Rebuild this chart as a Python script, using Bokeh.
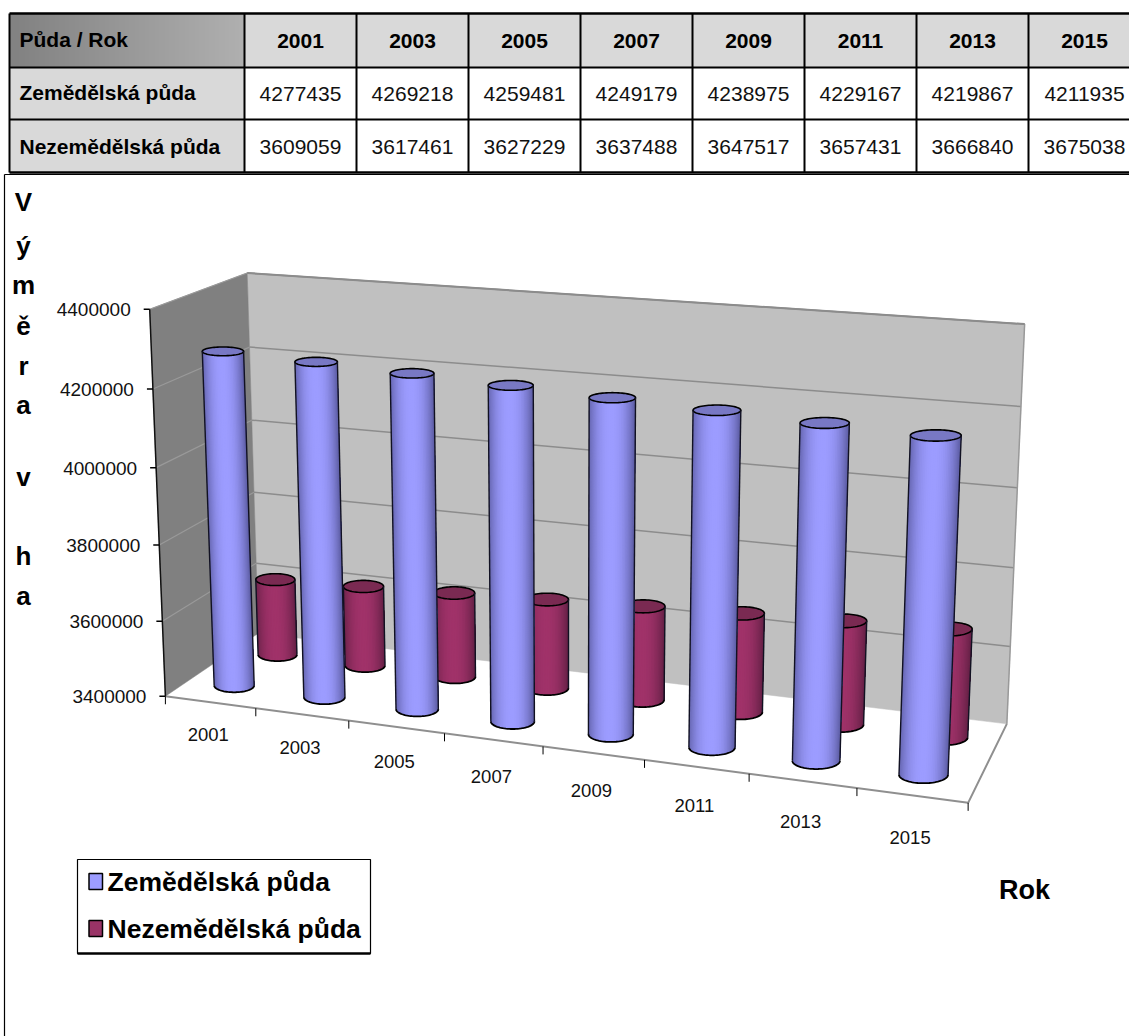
import numpy as np
from bokeh.core.properties import value
from bokeh.embed import file_html
from bokeh.models import Range1d
from bokeh.plotting import figure
from bokeh.resources import INLINE

# Land area per year, hectares
years = ["2001", "2003", "2005", "2007", "2009", "2011", "2013", "2015"]
agricultural = [4277435, 4269218, 4259481, 4249179, 4238975, 4229167, 4219867, 4211935]
non_agricultural = [3609059, 3617461, 3627229, 3637488, 3647517, 3657431, 3666840, 3675038]
value_ticks = [3400000, 3600000, 3800000, 4000000, 4200000, 4400000]
series_names = ["Zemědělská půda", "Nezemědělská půda"]
corner_label = "Půda / Rok"
axis_title_letters = ["V", "ý", "m", "ě", "r", "a", "v", "h", "a"]
axis_title_rows = [201, 245, 284, 325, 365, 404, 476, 555, 595]
category_axis_title = "Rok"

BLUE = (156, 156, 255)
BLUE_EDGE = (96, 96, 168)
BLUE_TOP = "#7878c4"
PLUM = (160, 50, 105)
PLUM_EDGE = (104, 34, 72)
PLUM_TOP = "#7a2a52"
ARIAL = "Liberation Sans"

p = figure(width=1129, height=1036, output_backend="svg", toolbar_location=None,
           x_range=Range1d(0, 1129), y_range=Range1d(1036, 0),
           min_border=0, outline_line_color=None, background_fill_color="white")
p.axis.visible = False
p.grid.visible = False


def label(x, y, text, size, style="normal", align="left", color="black"):
    p.text([x], [y], text=[text], text_font=value(ARIAL), text_font_size=f"{size}px",
           text_font_style=style, text_align=align, text_baseline="middle", text_color=color)


# ---- data table across the top of the page
col_edges = [9, 244, 356, 468, 580, 692, 804, 916, 1028, 1129]
row_edges = [13, 67, 119, 172]
p.quad(left=col_edges[1:-1], right=col_edges[2:], top=[row_edges[0]] * 8, bottom=[row_edges[1]] * 8,
       fill_color="#d9d9d9", line_color=None)
p.quad(left=[col_edges[0]] * 2, right=[col_edges[1]] * 2, top=row_edges[1:3], bottom=row_edges[2:4],
       fill_color="#d9d9d9", line_color=None)
# corner cell shades from dark grey to light grey; each band runs on to the cell's
# right edge and is painted over by the next, so no seams appear
band_starts = np.arange(col_edges[0], col_edges[1], 5)
band_greys = [int(130 + 46 * (s - col_edges[0]) / (col_edges[1] - col_edges[0])) for s in band_starts]
p.quad(left=band_starts, right=[col_edges[1]] * len(band_starts), top=row_edges[0], bottom=row_edges[1],
       fill_color=[f"#{g:02x}{g:02x}{g:02x}" for g in band_greys], line_color=None)
for y in row_edges:
    p.line([col_edges[0], 1129], [y, y], line_color="black", line_width=2.5 if y in (13, 172) else 2)
for x in col_edges[:-1]:
    p.line([x, x], [row_edges[0], row_edges[-1]], line_color="black", line_width=2)

label(19, 39, corner_label, 21, style="bold")
label(19, 92, series_names[0], 21, style="bold")
label(19, 146, series_names[1], 21, style="bold")
for i, yr in enumerate(years):
    cx = (col_edges[i + 1] + col_edges[i + 2]) / 2 if i < 7 else 1084
    label(cx, 40, yr, 21, style="bold", align="center")
    label(cx, 93, str(agricultural[i]), 21, align="center", color="#111111")
    label(cx, 146, str(non_agricultural[i]), 21, align="center", color="#111111")

# frame around the chart area
p.line([4, 4], [174, 1036], line_color="black", line_width=1.2)
p.line([4, 1129], [174, 174], line_color="black", line_width=1)

# ---- perspective camera for the 3D box: (category, depth, value share) -> page pixels
box_world = np.array([
    [0, 0, 0], [0, 0, 1], [0, 1, 0], [0, 1, 1], [8, 1, 1], [8, 1, 0], [8, 0, 0],
    [1, 0, 0], [2, 0, 0], [3, 0, 0], [4, 0, 0], [5, 0, 0], [6, 0, 0], [7, 0, 0],
], dtype=float)
front_ticks_x = [255, 347, 443, 542, 645, 750, 857]
box_page = [[166, 695], [149, 310], [258, 635], [247, 271], [1024, 324], [1006, 722], [967, 803]]
box_page += [[x, 695 + (x - 166) * (803 - 695) / (967 - 166)] for x in front_ticks_x]

rows = []
for (wx, wd, wz), (sx, sy) in zip(box_world, box_page):
    h = [wx, wd, wz, 1]
    rows.append(h + [0, 0, 0, 0] + [-sx * c for c in h])
    rows.append([0, 0, 0, 0] + h + [-sy * c for c in h])
camera = np.linalg.svd(np.array(rows))[2][-1].reshape(3, 4)


def project(x, d, v):
    """Page position of a point at category position x, depth d and a data value v."""
    z = (np.asarray(v, dtype=float) - value_ticks[0]) / (value_ticks[-1] - value_ticks[0])
    x, d, z = np.broadcast_arrays(np.asarray(x, dtype=float), np.asarray(d, dtype=float), z)
    q = camera @ np.stack([x, d, z, np.ones_like(z)])
    return q[0] / q[2], q[1] / q[2]


low, high = value_ticks[0], value_ticks[-1]


def face(xs, ds, vs, color):
    sx, sy = project(xs, ds, vs)
    p.patch(list(sx), list(sy), fill_color=color, line_color=color, line_width=0.5)


face([0, 8, 8, 0], [1, 1, 1, 1], [low, low, high, high], "#c0c0c0")
face([0, 0, 0, 0], [0, 1, 1, 0], [low, low, high, high], "#808080")

# gridlines on both walls
for v in value_ticks[1:]:
    sx, sy = project([0, 0, 8], [0, 1, 1], [v, v, v])
    p.line(sx[:2], sy[:2], line_color="#999999", line_width=1.2)
    p.line(sx[1:], sy[1:], line_color="#8c8c8c", line_width=1.5)
sx, sy = project([8, 8], [1, 1], [low, high])
p.line(sx, sy, line_color="#999999", line_width=1.5)
sx, sy = project([0, 8], [1, 1], [high, high])
p.line(sx, sy, line_color="#8c8c8c", line_width=2)

# floor edges and tick marks
sx, sy = project([0, 8, 8], [0, 0, 1], [low, low, low])
p.line(sx, sy, line_color="#8f8f8f", line_width=2)
for i in range(9):
    sx, sy = project([i], [0], [low])
    p.line([sx[0], sx[0]], [sy[0], sy[0] + 8], line_color="black", line_width=1)

# value axis
sx, sy = project([0, 0], [0, 0], [low, high])
p.line(sx, sy, line_color="#111111", line_width=1.5)
for v in value_ticks:
    sx, sy = project([0], [0], [v])
    p.line([sx[0] - 6, sx[0]], [sy[0], sy[0]], line_color="black", line_width=1.5)
    label(sx[0] - 19, sy[0] + 0.5, str(v), 19, align="right", color="#111111")

for i, yr in enumerate(years):
    sx, sy = project([i + 0.5], [0], [low])
    label(sx[0] - 2, sy[0] + 32 + 10 * i / 7, yr, 18.5, align="center", color="#111111")

for ch, row in zip(axis_title_letters, axis_title_rows):
    label(23, row, ch, 26, style="bold", align="center")
label(1024, 889, category_axis_title, 27, style="bold", align="center")


def shade(base, edge, s):
    t = min(1.0, abs(s + 0.05) ** 2.2)
    return "#%02x%02x%02x" % tuple(int(round(b + (e - b) * t)) for b, e in zip(base, edge))


def cylinder(i, depth, val, base, edge, top_color):
    """A cylinder standing on the floor: shaded body, top disc and outline."""
    half_x, half_d, cat = 0.225, 0.105, i + 0.5
    rims = []
    for v in (low, val):
        cx, cy = project([cat], [depth], [v])
        x0, _ = project([cat - half_x], [depth], [v])
        x1, _ = project([cat + half_x], [depth], [v])
        _, y0 = project([cat], [depth - half_d], [v])
        _, y1 = project([cat], [depth + half_d], [v])
        rims.append((cx[0], cy[0], (x1[0] - x0[0]) / 2, abs(y1[0] - y0[0]) / 2))
    (bx, by, ba, bb), (tx, ty, ta, tb) = rims

    # every band covers the rest of the body to the right; later bands paint over it
    angles = np.linspace(np.pi, 2 * np.pi, 41)
    xs, ys, colors = [], [], []
    for k in range(40):
        arc = angles[k:]
        xs.append(list(tx + ta * np.cos(arc)) + list(bx + ba * np.cos(arc[::-1])))
        ys.append(list(ty - tb * np.sin(arc)) + list(by - bb * np.sin(arc[::-1])))
        colors.append(shade(base, edge, np.cos((angles[k] + angles[k + 1]) / 2)))
    p.patches(xs, ys, fill_color=colors, line_color=None)

    ring = np.linspace(0, 2 * np.pi, 73)
    p.patch(tx + ta * np.cos(ring), ty - tb * np.sin(ring), fill_color=top_color,
            line_color="black", line_width=1.6)
    p.line(bx + ba * np.cos(angles), by - bb * np.sin(angles), line_color="black", line_width=1.8)
    p.line([tx - ta, bx - ba], [ty, by], line_color="#111122", line_width=1.4)
    p.line([tx + ta, bx + ba], [ty, by], line_color="#111122", line_width=1.4)


for i, val in enumerate(non_agricultural):
    cylinder(i, 0.73, val, PLUM, PLUM_EDGE, PLUM_TOP)
for i, val in enumerate(agricultural):
    cylinder(i, 0.25, val, BLUE, BLUE_EDGE, BLUE_TOP)

# ---- legend box
p.quad(left=[77], right=[370], top=[859], bottom=[953], fill_color="white", line_color="black", line_width=1.2)
p.line([77, 370], [953, 953], line_color="black", line_width=2.5)
for name, swatch, row in zip(series_names, ["#9c9cff", "#993366"], [881, 928]):
    p.quad(left=[88.5], right=[102], top=[row - 8], bottom=[row + 8], fill_color=swatch,
           line_color="black", line_width=1.5)
    label(107, row, name, 26.5, style="bold")

open("out.html", "w").write(file_html(p, INLINE))
